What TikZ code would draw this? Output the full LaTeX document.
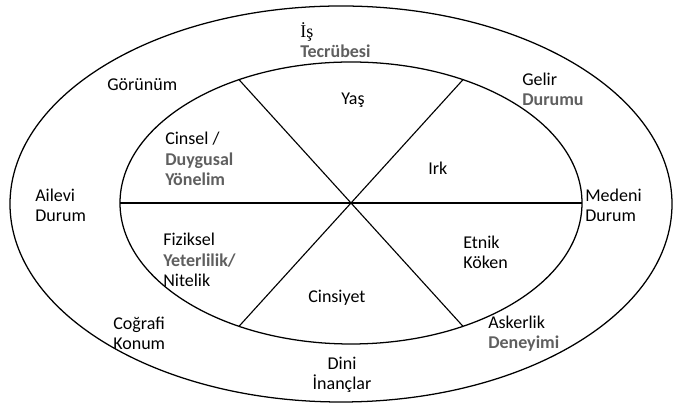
\documentclass[tikz,border=0pt]{standalone}
\usepackage{fontspec}
\setmainfont{Carlito}
\newfontfamily\serifface{Liberation Serif}
\usetikzlibrary{positioning, calc}
\definecolor{txtgray}{RGB}{95,95,95}
\tikzset{
  ring/.style={draw=black, line width=0.9pt},
  spoke/.style={draw=black, line width=0.8pt},
  lbl/.style={inner sep=0pt, align=left, anchor=west,
              font=\fontsize{12.8}{14.4}\selectfont, text=black},
  lblc/.style={lbl, align=center, anchor=center},
}
\begin{document}
\begin{tikzpicture}[x=0.025cm, y=0.025cm]
  \useasboundingbox (0,0) rectangle (677,405);
  % the two rings
  \draw[ring] (341,201) ellipse [x radius=331, y radius=198];
  \draw[ring] (351,202) ellipse [x radius=231, y radius=141];
  % spokes of the inner ring
  \coordinate (hub) at (351,202);
  \coordinate (e0) at ($(hub)+(0:231 and 141)$);
  \coordinate (e60) at ($(hub)+(61:231 and 141)$);
  \coordinate (e119) at ($(hub)+(119:231 and 141)$);
  \coordinate (e180) at ($(hub)+(180:231 and 141)$);
  \coordinate (e241) at ($(hub)+(241:231 and 141)$);
  \coordinate (e299) at ($(hub)+(299:231 and 141)$);
  \draw[spoke] (e180) -- (e0);
  \draw[spoke] (e119) -- (e299);
  \draw[spoke] (e60) -- (e241);
  % outer ring labels
  \node[lbl] (is) at (300,365) {{\serifface İş}\\{\color{txtgray}\bfseries Tecrübesi}};
  \node[lbl] (gorunum) at (107,320) {Görünüm};
  \node[lbl] (gelir) at (522,316) {Gelir\\{\color{txtgray}\bfseries Durumu}};
  \node[lbl] (ailevi) at (35,200) {Ailevi\\Durum};
  \node[lbl] (medeni) at (585,200) {Medeni\\Durum};
  \node[lbl] (cografi) at (113,72) {Coğrafi\\Konum};
  \node[lbl] (askerlik) at (488,71) {Askerlik\\{\color{txtgray}\bfseries Deneyimi}};
  \node[lblc] (dini) at (342,30) {Dini\\İnançlar};
  % inner ring labels
  \node[lblc] (yas) at (353,305) {Yaş};
  \node[lbl] (cinsel) at (165,246) {Cinsel /\\{\color{txtgray}\bfseries Duygusal}\\{\color{txtgray}\bfseries Yönelim}};
  \node[lbl] (irk) at (428,237) {Irk};
  \node[lbl] (fiziksel) at (163,145) {Fiziksel\\{\color{txtgray}\bfseries Yeterlilik/}\\Nitelik};
  \node[lbl] (etnik) at (463,153) {Etnik\\Köken};
  \node[lbl] (cinsiyet) at (308,107) {Cinsiyet};
\end{tikzpicture}
\end{document}
